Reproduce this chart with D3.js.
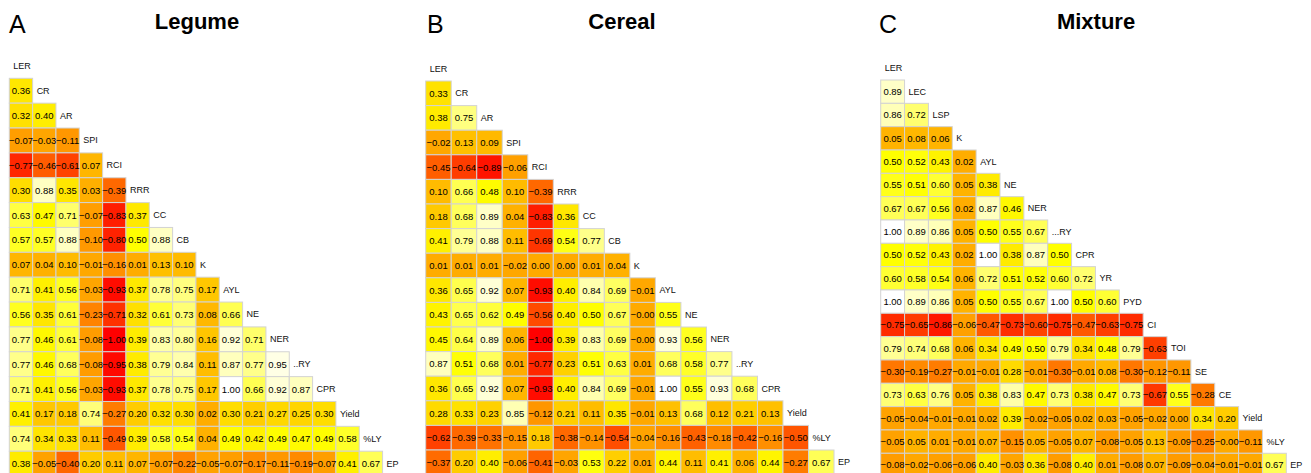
<!DOCTYPE html>
<html>
<head>
<meta charset="utf-8">
<script src="https://cdn.jsdelivr.net/npm/d3@7"></script>
<style>
  body { margin: 0; background: #fff; }
  svg { display: block; font-family: "Liberation Sans", Arial, sans-serif; }
</style>
</head>
<body>
<svg id="chart" width="1311" height="473"></svg>
<script>
// Variable names (diagonal labels) and lower-triangle correlations, row by row.
const legumeVars = ["LER", "CR", "AR", "SPI", "RCI", "RRR", "CC", "CB", "K", "AYL", "NE", "NER", "..RY", "CPR", "Yield", "%LY", "EP"];
const legumeCorr = [
  [0.36],
  [0.32, 0.40],
  [-0.07, -0.03, -0.11],
  [-0.77, -0.46, -0.61, 0.07],
  [0.30, 0.88, 0.35, 0.03, -0.39],
  [0.63, 0.47, 0.71, -0.07, -0.83, 0.37],
  [0.57, 0.57, 0.88, -0.10, -0.80, 0.50, 0.88],
  [0.07, 0.04, 0.10, -0.01, -0.16, 0.01, 0.13, 0.10],
  [0.71, 0.41, 0.56, -0.03, -0.93, 0.37, 0.78, 0.75, 0.17],
  [0.56, 0.35, 0.61, -0.23, -0.71, 0.32, 0.61, 0.73, 0.08, 0.66],
  [0.77, 0.46, 0.61, -0.08, -1.00, 0.39, 0.83, 0.80, 0.16, 0.92, 0.71],
  [0.77, 0.46, 0.68, -0.08, -0.95, 0.38, 0.79, 0.84, 0.11, 0.87, 0.77, 0.95],
  [0.71, 0.41, 0.56, -0.03, -0.93, 0.37, 0.78, 0.75, 0.17, 1.00, 0.66, 0.92, 0.87],
  [0.41, 0.17, 0.18, 0.74, -0.27, 0.20, 0.32, 0.30, 0.02, 0.30, 0.21, 0.27, 0.25, 0.30],
  [0.74, 0.34, 0.33, 0.11, -0.49, 0.39, 0.58, 0.54, 0.04, 0.49, 0.42, 0.49, 0.47, 0.49, 0.58],
  [0.38, -0.05, -0.40, 0.20, 0.11, 0.07, -0.07, -0.22, -0.05, -0.07, -0.17, -0.11, -0.19, -0.07, 0.41, 0.67]
];

const cerealVars = ["LER", "CR", "AR", "SPI", "RCI", "RRR", "CC", "CB", "K", "AYL", "NE", "NER", "..RY", "CPR", "Yield", "%LY", "EP"];
const cerealCorr = [
  [0.33],
  [0.38, 0.75],
  [-0.02, 0.13, 0.09],
  [-0.45, -0.64, -0.89, -0.06],
  [0.10, 0.66, 0.48, 0.10, -0.39],
  [0.18, 0.68, 0.89, 0.04, -0.83, 0.36],
  [0.41, 0.79, 0.88, 0.11, -0.69, 0.54, 0.77],
  [0.01, 0.01, 0.01, -0.02, 0.00, 0.00, 0.01, 0.04],
  [0.36, 0.65, 0.92, 0.07, -0.93, 0.40, 0.84, 0.69, -0.01],
  [0.43, 0.65, 0.62, 0.49, -0.56, 0.40, 0.50, 0.67, -0.0, 0.55],
  [0.45, 0.64, 0.89, 0.06, -1.00, 0.39, 0.83, 0.69, -0.0, 0.93, 0.56],
  [0.87, 0.51, 0.68, 0.01, -0.77, 0.23, 0.51, 0.63, 0.01, 0.68, 0.58, 0.77],
  [0.36, 0.65, 0.92, 0.07, -0.93, 0.40, 0.84, 0.69, -0.01, 1.00, 0.55, 0.93, 0.68],
  [0.28, 0.33, 0.23, 0.85, -0.12, 0.21, 0.11, 0.35, -0.01, 0.13, 0.68, 0.12, 0.21, 0.13],
  [-0.62, -0.39, -0.33, -0.15, 0.18, -0.38, -0.14, -0.54, -0.04, -0.16, -0.43, -0.18, -0.42, -0.16, -0.50],
  [-0.37, 0.20, 0.40, -0.06, -0.41, -0.03, 0.53, 0.22, 0.01, 0.44, 0.11, 0.41, 0.06, 0.44, -0.27, 0.67]
];

const mixtureVars = ["LER", "LEC", "LSP", "K", "AYL", "NE", "NER", "...RY", "CPR", "YR", "PYD", "CI", "TOI", "SE", "CE", "Yield", "%LY", "EP"];
const mixtureCorr = [
  [0.89],
  [0.86, 0.72],
  [0.05, 0.08, 0.06],
  [0.50, 0.52, 0.43, 0.02],
  [0.55, 0.51, 0.60, 0.05, 0.38],
  [0.67, 0.67, 0.56, 0.02, 0.87, 0.46],
  [1.00, 0.89, 0.86, 0.05, 0.50, 0.55, 0.67],
  [0.50, 0.52, 0.43, 0.02, 1.00, 0.38, 0.87, 0.50],
  [0.60, 0.58, 0.54, 0.06, 0.72, 0.51, 0.52, 0.60, 0.72],
  [1.00, 0.89, 0.86, 0.05, 0.50, 0.55, 0.67, 1.00, 0.50, 0.60],
  [-0.75, -0.65, -0.86, -0.06, -0.47, -0.73, -0.60, -0.75, -0.47, -0.63, -0.75],
  [0.79, 0.74, 0.68, 0.06, 0.34, 0.49, 0.50, 0.79, 0.34, 0.48, 0.79, -0.63],
  [-0.30, -0.19, -0.27, -0.01, -0.01, 0.28, -0.01, -0.30, -0.01, 0.08, -0.30, -0.12, -0.11],
  [0.73, 0.63, 0.76, 0.05, 0.38, 0.83, 0.47, 0.73, 0.38, 0.47, 0.73, -0.67, 0.55, -0.28],
  [-0.05, -0.04, -0.01, -0.01, 0.02, 0.39, -0.02, -0.05, 0.02, 0.03, -0.05, -0.02, 0.00, 0.34, 0.20],
  [-0.05, 0.05, 0.01, -0.01, 0.07, -0.15, 0.05, -0.05, 0.07, -0.08, -0.05, 0.13, -0.09, -0.25, -0.0, -0.11],
  [-0.08, -0.02, -0.06, -0.06, 0.40, -0.03, 0.36, -0.08, 0.40, 0.01, -0.08, 0.07, -0.09, -0.04, -0.01, -0.01, 0.67]
];

const panelTags = ["A", "B", "C"];
const panelTitles = ["Legume", "Cereal", "Mixture"];

// Layout of each triangle: left edge, cell width, top of first data row, row height.
const panels = [
  { vars: legumeVars,  corr: legumeCorr,  x0: 9.3,   cw: 23.33, y0: 78.3, rh: 24.86, tagX: 9,   titleX: 197 },
  { vars: cerealVars,  corr: cerealCorr,  x0: 425.7, cw: 25.52, y0: 81.0, rh: 24.6,  tagX: 427, titleX: 622 },
  { vars: mixtureVars, corr: mixtureCorr, x0: 880.7, cw: 23.86, y0: 80.0, rh: 23.33, tagX: 879, titleX: 1096 }
];

// heat palette: red at -1, yellow at 0.5, white at +1
const color = d3.scaleLinear()
  .domain([-1, 0.5, 1])
  .range(["#ff0000", "#ffff00", "#ffffff"]);

const fmt2 = d3.format(".2f");
const fmtCorr = v => ((v < 0 || Object.is(v, -0)) ? "\u2212" : "") + fmt2(Math.abs(v));

const svg = d3.select("#chart");

panels.forEach((p, k) => {
  const n = p.vars.length;
  const x = d3.scaleBand().domain(p.vars).range([p.x0, p.x0 + n * p.cw]);
  const y = d3.scaleBand().domain(p.vars).range([p.y0 - p.rh, p.y0 + (n - 1) * p.rh]);

  const cells = [];
  p.corr.forEach((row, i) => row.forEach((v, j) => cells.push({ r: p.vars[i + 1], c: p.vars[j], v })));

  const g = svg.append("g");

  g.append("text")
    .attr("x", p.tagX)
    .attr("y", 33)
    .attr("font-size", 25)
    .attr("fill", "#000")
    .text(panelTags[k]);

  g.append("text")
    .attr("x", p.titleX)
    .attr("y", 29)
    .attr("text-anchor", "middle")
    .attr("font-size", 22)
    .attr("font-weight", "bold")
    .attr("fill", "#000")
    .text(panelTitles[k]);

  g.append("g").selectAll("rect")
    .data(cells)
    .join("rect")
    .attr("x", d => x(d.c))
    .attr("y", d => y(d.r))
    .attr("width", x.bandwidth())
    .attr("height", y.bandwidth())
    .attr("fill", d => color(d.v))
    .attr("stroke", "#d3d3d3")
    .attr("stroke-width", 1);

  g.append("g").selectAll("text")
    .data(cells)
    .join("text")
    .attr("x", d => x(d.c) + x.bandwidth() / 2)
    .attr("y", d => y(d.r) + y.bandwidth() / 2)
    .attr("text-anchor", "middle")
    .attr("dominant-baseline", "central")
    .attr("font-size", 9.5)
    .attr("fill", "#000")
    .text(d => fmtCorr(d.v));

  g.append("g").selectAll("text")
    .data(p.vars)
    .join("text")
    .attr("x", d => x(d) + 4)
    .attr("y", d => y(d) + y.bandwidth() / 2)
    .attr("dominant-baseline", "central")
    .attr("font-size", 9)
    .attr("fill", "#111")
    .text(d => d);
});
</script>
</body>
</html>
